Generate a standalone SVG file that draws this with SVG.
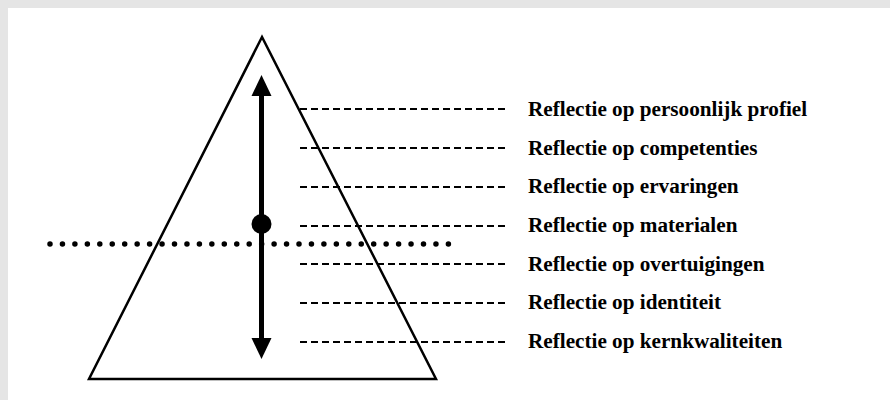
<svg xmlns="http://www.w3.org/2000/svg" width="890" height="400" viewBox="0 0 890 400">
  <style>
    .frame { fill: #e5e5e5; }
    .sheet { fill: #ffffff; }
    .tri { fill: none; stroke: #000; stroke-width: 2.5; stroke-linejoin: miter; }
    .axis { stroke: #000; stroke-width: 5; }
    .dash { stroke: #000; stroke-width: 2; stroke-dasharray: 7 4; fill: none; }
    .dots { stroke: #000; stroke-width: 5.5; stroke-linecap: round; stroke-dasharray: 0 12.45; fill: none; }
    .label { font-family: "Liberation Serif", "Times New Roman", serif; font-weight: bold; font-size: 21.2px; fill: #000; }
  </style>

  <!-- page background with grey margin -->
  <rect class="frame" x="0" y="0" width="890" height="400"/>
  <rect class="sheet" x="8" y="8" width="882" height="392"/>

  <!-- pyramid -->
  <g id="pyramid">
    <polygon class="tri" points="262,37 89,379 436,379"/>
  </g>

  <!-- horizontal dotted divider -->
  <g id="divider">
    <line class="dots" x1="50" y1="244" x2="449" y2="244"/>
  </g>

  <!-- vertical double-headed axis with midpoint -->
  <g id="axis">
    <line class="axis" x1="261.5" y1="95" x2="261.5" y2="339"/>
    <polygon points="261.5,75 251.5,96 271.5,96" fill="#000"/>
    <polygon points="261.5,359 251.5,338 271.5,338" fill="#000"/>
    <circle cx="261.5" cy="224" r="10" fill="#000"/>
  </g>

  <!-- leader lines -->
  <g id="connectors">
    <line class="dash" x1="300" y1="109" x2="505" y2="109"/>
    <line class="dash" x1="300" y1="148" x2="505" y2="148"/>
    <line class="dash" x1="300" y1="187" x2="505" y2="187"/>
    <line class="dash" x1="300" y1="226" x2="505" y2="226"/>
    <line class="dash" x1="300" y1="264" x2="505" y2="264"/>
    <line class="dash" x1="300" y1="303" x2="505" y2="303"/>
    <line class="dash" x1="300" y1="342" x2="505" y2="342"/>
  </g>

  <!-- level labels -->
  <g id="level-1"><text class="label" x="528" y="116">Reflectie op persoonlijk profiel</text></g>
  <g id="level-2"><text class="label" x="528" y="154.7">Reflectie op competenties</text></g>
  <g id="level-3"><text class="label" x="528" y="193.3">Reflectie op ervaringen</text></g>
  <g id="level-4"><text class="label" x="528" y="232">Reflectie op materialen</text></g>
  <g id="level-5"><text class="label" x="528" y="270.7">Reflectie op overtuigingen</text></g>
  <g id="level-6"><text class="label" x="528" y="309.3">Reflectie op identiteit</text></g>
  <g id="level-7"><text class="label" x="528" y="348">Reflectie op kernkwaliteiten</text></g>
</svg>
